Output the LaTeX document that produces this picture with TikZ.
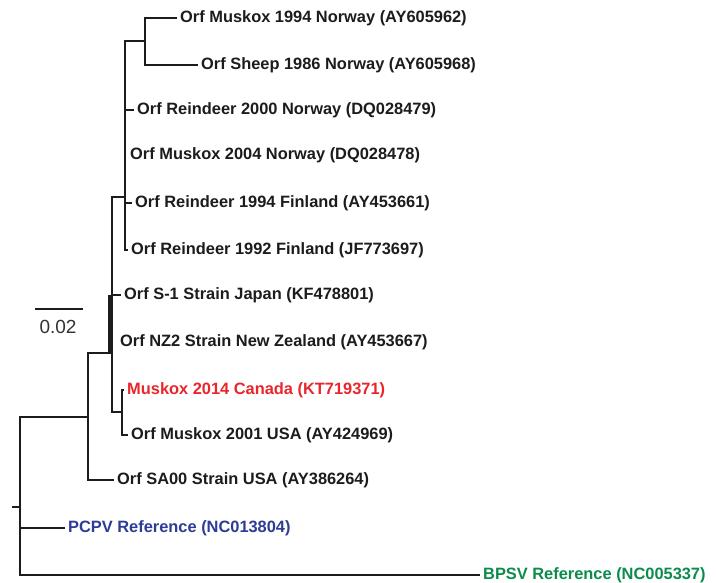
\documentclass[tikz,border=0pt]{standalone}
\usepackage{fontspec}
\setmainfont{Liberation Sans}
\usetikzlibrary{positioning}
\definecolor{ink}{HTML}{1C1C1C}
\definecolor{muskred}{HTML}{E8262B}
\definecolor{pcpvblue}{HTML}{2D3C96}
\definecolor{bpsvgreen}{HTML}{0C8C4C}
\definecolor{scalegray}{HTML}{333333}
\tikzset{branch/.style={draw=ink,line width=2.1pt},taxon/.style={anchor=west,inner xsep=3pt,inner ysep=0pt,font=\fontsize{16.4}{18}\selectfont\bfseries,text=ink},novel/.style={taxon,text=muskred},pcpv/.style={taxon,text=pcpvblue},bpsv/.style={taxon,text=bpsvgreen},scalelabel/.style={inner sep=0pt,font=\fontsize{19}{21}\selectfont,text=scalegray}}

\begin{document}
\begin{tikzpicture}[x=1pt,y=-1pt]
\useasboundingbox (0,0) rectangle (716,583);
\fill[white] (0,0) rectangle (716,583);
\node[taxon] (m94) at (177,18) {Orf Muskox 1994 Norway (AY605962)};
\node[taxon] (s86) at (198,65) {Orf Sheep 1986 Norway (AY605968)};
\node[taxon] (r00) at (134,110) {Orf Reindeer 2000 Norway (DQ028479)};
\node[taxon] (m04) at (127,155) {Orf Muskox 2004 Norway (DQ028478)};
\node[taxon] (r94) at (132,203) {Orf Reindeer 1994 Finland (AY453661)};
\node[taxon] (r92) at (128,250) {Orf Reindeer 1992 Finland (JF773697)};
\node[taxon] (s1) at (121,295) {Orf S-1 Strain Japan (KF478801)};
\node[taxon] (nz2) at (117,342) {Orf NZ2 Strain New Zealand (AY453667)};
\node[novel] (can) at (124,390) {Muskox 2014 Canada (KT719371)};
\node[taxon] (m01) at (128,435) {Orf Muskox 2001 USA (AY424969)};
\node[taxon] (sa00) at (114,480) {Orf SA00 Strain USA (AY386264)};
\node[pcpv] (pcpvref) at (65,528) {PCPV Reference (NC013804)};
\node[bpsv] (bpsvref) at (480,575) {BPSV Reference (NC005337)};
\coordinate (root) at (12,507);
\coordinate (nE) at (20,507);
\coordinate (nD) at (88,417);
\coordinate (nC) at (112,353);
\coordinate (nA) at (125,197);
\coordinate (nG) at (145,41);
\coordinate (nF) at (122,412);
\draw[branch] (root)--(nE);
\draw[branch] (nE)|-(nD);\draw[branch] (nE)|-(pcpvref.west);\draw[branch] (nE)|-(bpsvref.west);
\draw[branch] (nD)|-(nC);\draw[branch] (nD)|-(sa00.west);
\draw[branch] (nC)|-(nA);\draw[branch] (nC)|-(s1.west);\draw[branch] (nC)|-(nF);
\draw[branch] ([xshift=-2.5pt]nC)--([xshift=-2.5pt,yshift=58pt]nC);
\draw[branch] (nA)|-(nG);\draw[branch] (nA)|-(r00.west);\draw[branch] (nA)|-(r94.west);\draw[branch] (nA)|-(r92.west);
\draw[branch] (nG)|-(m94.west);\draw[branch] (nG)|-(s86.west);
\draw[branch] (nF)|-(can.west);\draw[branch] (nF)|-(m01.west);
\coordinate (sbl) at (35,309);
\coordinate (sbr) at (83,309);
\draw[branch] (sbl)--(sbr);
\node[scalelabel] (sbtext) at (58,327) {0.02};
\end{tikzpicture}
\end{document}
